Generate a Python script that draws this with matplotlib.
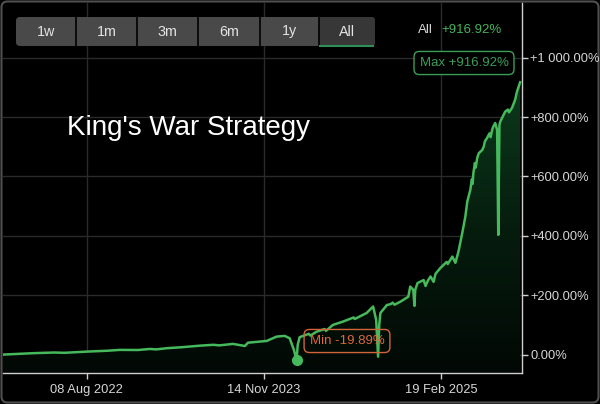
import matplotlib
matplotlib.use("Agg")
import matplotlib.pyplot as plt
import matplotlib.dates as mdates
import numpy as np
from matplotlib.patches import FancyBboxPatch, Rectangle
from matplotlib.colors import LinearSegmentedColormap

plt.rcParams['font.family'] = ['Liberation Sans', 'DejaVu Sans']

# ---- data ----
dates = ["2022-01-01", "2022-03-20", "2022-05-15", "2022-06-10", "2022-08-08",
         "2022-10-01", "2022-11-02", "2022-12-20", "2023-01-20", "2023-02-05",
         "2023-03-05", "2023-04-15", "2023-05-30", "2023-07-05", "2023-07-20",
         "2023-08-25", "2023-09-25", "2023-10-03", "2023-11-21",
         "2023-12-17", "2024-01-07", "2024-01-20", "2024-01-31", "2024-02-07",
         "2024-02-10", "2024-02-15", "2024-03-10", "2024-03-14", "2024-03-30",
         "2024-04-20", "2024-04-24", "2024-05-12", "2024-06-07",
         "2024-07-05", "2024-07-08", "2024-08-08", "2024-08-25", "2024-09-02",
         "2024-09-07", "2024-09-10",
         "2024-09-13", "2024-09-30", "2024-10-10", "2024-10-15", "2024-10-20",
         "2024-11-04", "2024-11-25", "2024-11-30",
         "2024-12-08", "2024-12-11", "2024-12-13", "2024-12-19", "2025-01-04",
         "2025-01-09", "2025-01-15", "2025-01-22", "2025-01-30", "2025-02-04",
         "2025-02-17", "2025-03-05", "2025-03-08", "2025-03-20", "2025-03-28",
         "2025-04-05", "2025-04-15",
         "2025-04-23", "2025-04-28", "2025-05-06", "2025-05-10", "2025-05-12",
         "2025-05-14", "2025-05-18", "2025-05-20", "2025-05-24", "2025-05-28",
         "2025-06-06", "2025-06-10", "2025-06-13", "2025-06-19", "2025-06-25",
         "2025-06-28", "2025-07-02", "2025-07-05", "2025-07-10", "2025-07-15",
         "2025-07-18", "2025-07-21", "2025-07-23", "2025-08-05", "2025-08-12",
         "2025-08-15", "2025-08-23",
         "2025-08-31", "2025-09-05", "2025-09-13"]
values = [0.0, 4.7, 7.0, 6.0, 10.0,
          13.0, 15.8, 15.5, 19.0, 17.5,
          21.5, 25.0, 30.0, 33.0, 31.0,
          36.0, 29.0, 40.0, 46.0,
          60.6, 63.0, 55.0, 16.0, -19.89,
          33.0, 58.6, 70.0, 64.0, 77.0,
          86.0, 80.0, 100.0, 111.0,
          125.0, 120.0, 140.0, 162.0, 117.0,
          -7.0, 100.0,
          140.0, 167.0, 170.0, 175.0, 168.0,
          178.0, 195.0, 229.0,
          218.0, 164.0, 218.0, 241.0, 251.0,
          231.0, 249.0, 263.0, 245.0, 272.0,
          292.0, 312.0, 305.0, 330.0, 309.0,
          347.0, 410.0,
          465.0, 515.0, 555.0, 590.0, 575.0,
          612.0, 645.0, 630.0, 662.0, 678.0,
          689.0, 700.0, 718.0, 730.0, 745.0,
          732.0, 757.0, 768.0, 780.0, 757.0,
          403.0, 773.0, 784.0, 818.0, 825.0,
          816.0, 831.0,
          858.0, 886.0, 916.92]

ytick_vals = [0, 200, 400, 600, 800, 1000]
ytick_labels = ["0.00%", "+200.00%", "+400.00%", "+600.00%", "+800.00%", "+1 000.00%"]
xtick_dates = ["2022-08-08", "2023-11-14", "2025-02-19"]
xtick_labels = ["08 Aug 2022", "14 Nov 2023", "19 Feb 2025"]
buttons = ["1w", "1m", "3m", "6m", "1y", "All"]
title = "King's War Strategy"
max_val = 916.92
min_val = -19.89
min_date = "2024-02-07"

LINE = '#45b95b'
TXT = '#d6d6d6'

fig = plt.figure(figsize=(6, 4.04), dpi=100, facecolor='black')

# outer frame
ov0 = fig.add_axes([0, 0, 1, 1])
ov0.set_xlim(0, 600); ov0.set_ylim(404, 0); ov0.axis('off')
ov0.add_patch(FancyBboxPatch((1.5, 1.5), 597, 401, boxstyle='round,pad=0,rounding_size=6',
                             fc='black', ec='#4f4f4f', lw=1.5))

ax = fig.add_axes([3/600, 31/404, 519/600, 370/404])
ax.set_facecolor('none')

x = mdates.datestr2num(dates)
ybot, ytop = -62, 1184
xl = mdates.datestr2num(["2022-01-01", "2025-09-18"])

# gradient fill under the line
poly = ax.fill_between(x, values, ybot, color='none', lw=0)
cmap = LinearSegmentedColormap.from_list('g', ['#020805', '#061d0e', '#0c3a1d'])
grad = np.linspace(0, 1, 256).reshape(-1, 1)
img = ax.imshow(grad, extent=[xl[0], xl[1], ybot, max_val], aspect='auto',
                cmap=cmap, origin='lower', zorder=1)
img.set_clip_path(poly.get_paths()[0], transform=ax.transData)

ax.plot(x, values, color=LINE, lw=1.8, solid_joinstyle='round', zorder=3)
ax.plot(mdates.datestr2num(min_date), min_val, 'o', ms=7, color=LINE, zorder=4)

ax.set_xlim(xl)
ax.set_ylim(ybot, ytop)

ax.yaxis.tick_right()
ax.set_yticks(ytick_vals)
ax.set_yticklabels(ytick_labels)
ax.set_xticks(mdates.datestr2num(xtick_dates))
ax.set_xticklabels(xtick_labels)
ax.tick_params(colors='#cfcfcf', labelcolor=TXT, labelsize=9.3, length=4, width=1)
ax.tick_params(axis='y', pad=2)
ax.tick_params(axis='x', pad=4)
ax.grid(color='#2a2a2a', lw=1)
ax.set_axisbelow(True)
for s in ['top', 'left']:
    ax.spines[s].set_visible(False)
for s in ['right', 'bottom']:
    ax.spines[s].set_color('#cfcfcf')
    ax.spines[s].set_linewidth(1)

# overlay for UI elements
ov = fig.add_axes([0, 0, 1, 1])
ov.set_xlim(0, 600); ov.set_ylim(404, 0); ov.axis('off')
ov.patch.set_alpha(0)

edges = [16, 76, 137, 198, 260, 319, 375]
ov.add_patch(FancyBboxPatch((edges[0], 17), edges[-1] - edges[0], 29,
                            boxstyle='round,pad=0,rounding_size=4', fc='#494949', ec='none'))
ov.add_patch(FancyBboxPatch((edges[5], 17), edges[6] - edges[5], 29,
                            boxstyle='round,pad=0,rounding_size=4', fc='#373737', ec='none'))
ov.add_patch(Rectangle((edges[5], 17), 8, 29, fc='#373737', ec='none'))
for e in edges[1:-1]:
    ov.plot([e, e], [17, 46], color='black', lw=1.2)
ov.plot([edges[5] + 1, edges[6] - 2], [45.5, 45.5], color='#2f8f55', lw=1.5)
for i, b in enumerate(buttons):
    ov.text((edges[i] + edges[i + 1]) / 2, 31.5, b, color='#e4e4e4', fontsize=10.3,
            ha='center', va='center')

ov.text(418, 30, "All", color=TXT, fontsize=9.5, ha='left', va='center')
ov.text(441, 30, "+%.2f%%" % max_val, color='#45b45a', fontsize=9.5, ha='left', va='center')

ov.text(464, 63, "Max +%.2f%%" % max_val, color='#3a9e58', fontsize=9.5, ha='center', va='center',
        bbox=dict(boxstyle='round,pad=0.42,rounding_size=0.4', fc='black', ec='#3a9e58', lw=1))
ov.text(347, 341, "Min %.2f%%" % min_val, color='#e0663c', fontsize=9.5, ha='center', va='center',
        bbox=dict(boxstyle='round,pad=0.42,rounding_size=0.4', fc='none', ec='#d0643a', lw=1))

ov.text(67, 135, title, color='white', fontsize=20, ha='left', va='baseline')

fig.savefig('out.png', dpi=100, facecolor='black')
